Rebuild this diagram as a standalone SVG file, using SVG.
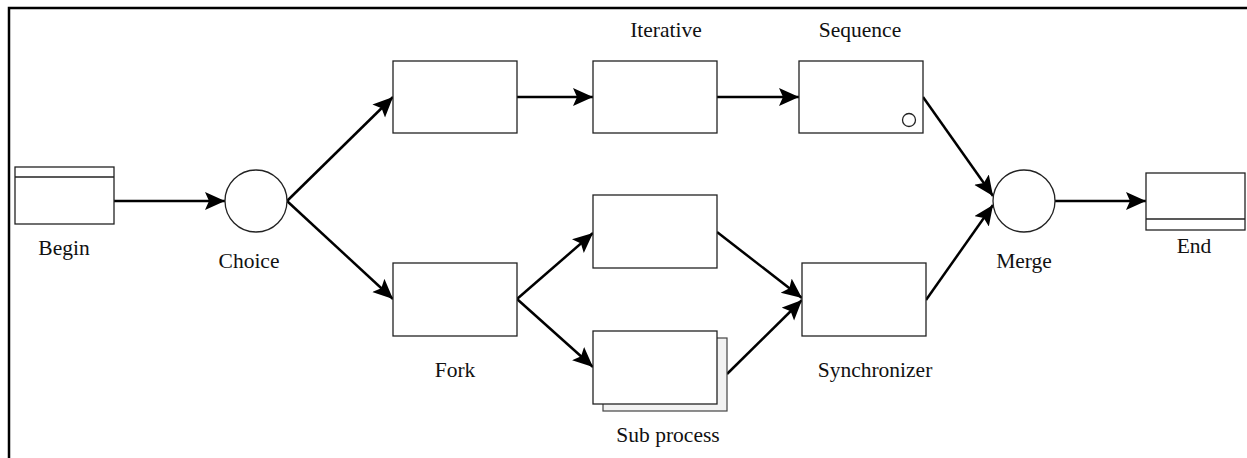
<svg xmlns="http://www.w3.org/2000/svg" width="1247" height="458" viewBox="0 0 1247 458">
<style>
.box{fill:#fff;stroke:#222;stroke-width:1.3}
.shadow{fill:#f2f2f2;stroke:#444;stroke-width:1.2}
.circ{fill:#fff;stroke:#222;stroke-width:1.3}
.conn{fill:none;stroke:#000;stroke-width:2.5}
.lbl{font-family:"Liberation Serif","Times New Roman",serif;font-size:21.5px;fill:#111;text-anchor:middle}
.frame{fill:none;stroke:#000;stroke-width:2.5}
</style>
<defs>
<marker id="arr" markerUnits="userSpaceOnUse" markerWidth="22" markerHeight="20" refX="20" refY="9" orient="auto">
<path d="M0,0 L20,9 L0,18 L4,9 z" fill="#000"/>
</marker>
</defs>
<rect width="1247" height="458" fill="#fff"/>
<path class="frame" d="M9,458 V8 H1247"/>

<g id="connectors">
<line class="conn" x1="114" y1="201" x2="225" y2="201" marker-end="url(#arr)"/>
<line class="conn" x1="287" y1="201" x2="393" y2="97" marker-end="url(#arr)"/>
<line class="conn" x1="287" y1="201" x2="393" y2="299" marker-end="url(#arr)"/>
<line class="conn" x1="517" y1="97" x2="593" y2="97" marker-end="url(#arr)"/>
<line class="conn" x1="717" y1="97" x2="799" y2="97" marker-end="url(#arr)"/>
<line class="conn" x1="517" y1="299" x2="593" y2="233" marker-end="url(#arr)"/>
<line class="conn" x1="517" y1="299" x2="593" y2="367" marker-end="url(#arr)"/>
<line class="conn" x1="717" y1="232" x2="802" y2="298" marker-end="url(#arr)"/>
<line class="conn" x1="727" y1="374" x2="802" y2="300" marker-end="url(#arr)"/>
<line class="conn" x1="923" y1="97" x2="993" y2="196" marker-end="url(#arr)"/>
<line class="conn" x1="926" y1="300" x2="993" y2="205" marker-end="url(#arr)"/>
<line class="conn" x1="1055" y1="201" x2="1146" y2="201" marker-end="url(#arr)"/>
</g>

<g id="begin">
<rect class="box" x="15" y="167" width="99" height="57"/>
<line class="box" x1="15" y1="177" x2="114" y2="177"/>
<text class="lbl" x="64" y="255">Begin</text>
</g>

<g id="choice">
<circle class="circ" cx="256" cy="201" r="31"/>
<text class="lbl" x="249" y="268">Choice</text>
</g>

<g id="task1">
<rect class="box" x="393" y="61" width="124" height="72"/>
</g>

<g id="iterative">
<rect class="box" x="593" y="61" width="124" height="72"/>
<text class="lbl" x="666" y="37">Iterative</text>
</g>

<g id="sequence">
<rect class="box" x="799" y="61" width="124" height="72"/>
<circle class="circ" cx="909" cy="120" r="6.5"/>
<text class="lbl" x="860" y="37">Sequence</text>
</g>

<g id="fork">
<rect class="box" x="393" y="263" width="124" height="73"/>
<text class="lbl" x="455" y="377">Fork</text>
</g>

<g id="task2">
<rect class="box" x="593" y="195" width="124" height="73"/>
</g>

<g id="subprocess">
<rect class="shadow" x="603" y="338" width="124" height="73"/>
<rect class="box" x="593" y="331" width="124" height="73"/>
<text class="lbl" x="668" y="442">Sub process</text>
</g>

<g id="synchronizer">
<rect class="box" x="802" y="263" width="124" height="73"/>
<text class="lbl" x="875" y="377">Synchronizer</text>
</g>

<g id="merge">
<circle class="circ" cx="1024" cy="201" r="31"/>
<text class="lbl" x="1024" y="268">Merge</text>
</g>

<g id="end">
<rect class="box" x="1146" y="173" width="99" height="57"/>
<line class="box" x1="1146" y1="219" x2="1245" y2="219"/>
<text class="lbl" x="1194" y="253">End</text>
</g>
</svg>
